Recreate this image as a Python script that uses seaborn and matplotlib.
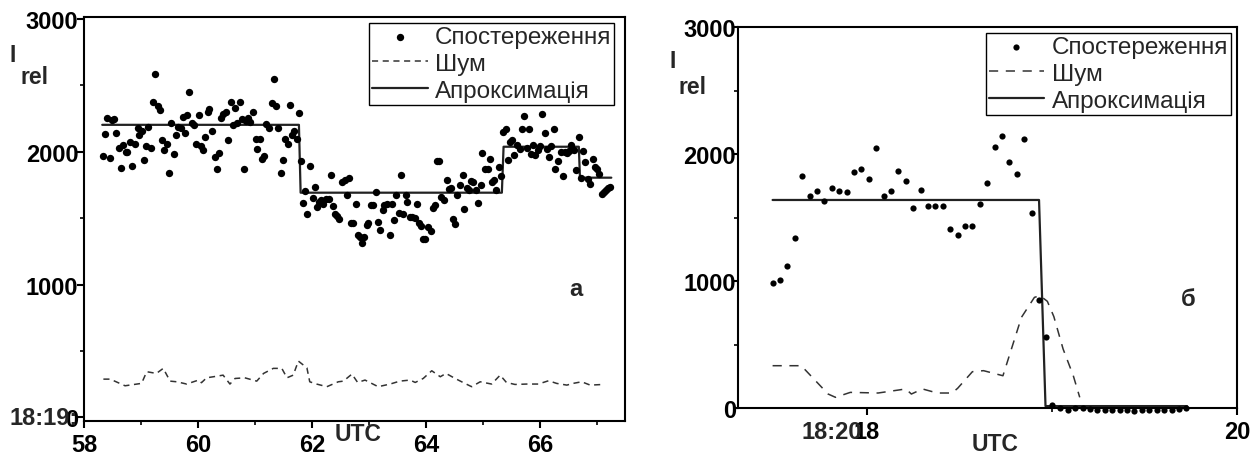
import numpy as np
import pandas as pd
import matplotlib.pyplot as plt
import seaborn as sns
from matplotlib.ticker import MultipleLocator

# --- panel а: 18:19:58 - 18:20:07 ---
obs_a_x = [58.33, 58.37, 58.41, 58.46, 58.49, 58.53, 58.57, 58.61, 58.65, 58.69,
           58.73, 58.76, 58.81, 58.85, 58.89, 58.94, 58.97, 59.01, 59.05, 59.09,
           59.13, 59.18, 59.21, 59.25, 59.29, 59.33, 59.37, 59.41, 59.45, 59.49,
           59.53, 59.57, 59.61, 59.65, 59.70, 59.73, 59.77, 59.81, 59.85, 59.89,
           59.93, 59.97, 60.01, 60.05, 60.09, 60.13, 60.17, 60.20, 60.25, 60.29,
           60.33, 60.37, 60.40, 60.44, 60.49, 60.53, 60.57, 60.61, 60.65, 60.69,
           60.73, 60.77, 60.81, 60.85, 60.88, 60.92, 60.96, 61.01, 61.04, 61.08,
           61.12, 61.16, 61.20, 61.25, 61.29, 61.33, 61.37, 61.41, 61.45, 61.49,
           61.53, 61.57, 61.61, 61.64, 61.68, 61.73, 61.77, 61.81, 61.84, 61.88,
           61.92, 61.96, 62.01, 62.05, 62.08, 62.12, 62.16, 62.20, 62.24, 62.29,
           62.33, 62.36, 62.40, 62.44, 62.48, 62.52, 62.57, 62.61, 62.64, 62.68,
           62.71, 62.77, 62.81, 62.84, 62.88, 62.91, 62.96, 62.99, 63.04, 63.07,
           63.12, 63.16, 63.20, 63.24, 63.27, 63.32, 63.36, 63.40, 63.44, 63.48,
           63.53, 63.56, 63.60, 63.64, 63.67, 63.72, 63.76, 63.80, 63.84, 63.88,
           63.92, 63.95, 63.99, 64.03, 64.08, 64.12, 64.15, 64.19, 64.23, 64.27,
           64.32, 64.36, 64.40, 64.44, 64.48, 64.51, 64.55, 64.60, 64.64, 64.67,
           64.71, 64.75, 64.79, 64.83, 64.88, 64.92, 64.96, 64.99, 65.03, 65.08,
           65.12, 65.16, 65.19, 65.23, 65.28, 65.32, 65.35, 65.40, 65.43, 65.47,
           65.51, 65.55, 65.60, 65.64, 65.68, 65.72, 65.77, 65.81, 65.84, 65.88,
           65.92, 65.96, 66.00, 66.04, 66.08, 66.12, 66.16, 66.20, 66.24, 66.27,
           66.32, 66.36, 66.40, 66.44, 66.48, 66.51, 66.55, 66.59, 66.63, 66.68,
           66.71, 66.75, 66.79, 66.84, 66.88, 66.92, 66.96, 67.00, 67.03, 67.08,
           67.12, 67.15, 67.19, 67.23]
obs_a_y = [1967, 2135, 2255, 1952, 2238, 2248, 2143, 2030, 1877, 2052,
           2002, 2002, 2070, 1890, 2055, 2180, 2130, 2153, 1935, 2042,
           2185, 2030, 2373, 2589, 2348, 2318, 2088, 2017, 2055, 1842,
           2218, 1985, 2128, 2190, 2178, 2265, 2143, 2278, 2453, 2215,
           2198, 2057, 2278, 2042, 2017, 2110, 2298, 2321, 2160, 1962,
           1867, 1992, 2258, 2286, 2296, 2090, 2373, 2200, 2331, 2218,
           2376, 2248, 1872, 2235, 2253, 2223, 2298, 2098, 2022, 2098,
           1947, 1972, 2208, 2180, 2368, 2546, 2343, 2180, 1842, 1937,
           2098, 2055, 2356, 2128, 2153, 2098, 2290, 1930, 1617, 1702,
           1534, 1893, 1652, 1735, 1585, 1622, 1635, 1610, 1647, 1647,
           1828, 1592, 1534, 1517, 1497, 1772, 1785, 1672, 1803, 1467,
           1467, 1610, 1372, 1359, 1316, 1359, 1452, 1467, 1602, 1602,
           1697, 1472, 1412, 1559, 1602, 1610, 1372, 1610, 1489, 1672,
           1542, 1828, 1534, 1672, 1622, 1509, 1509, 1504, 1610, 1467,
           1439, 1346, 1346, 1434, 1402, 1577, 1602, 1933, 1928, 1660,
           1635, 1790, 1717, 1727, 1492, 1459, 1672, 1752, 1823, 1572,
           1727, 1715, 1778, 1772, 1710, 1615, 1752, 1993, 1873, 1873,
           1943, 1772, 1785, 1710, 1885, 1818, 2148, 2173, 1935, 2073,
           2086, 1978, 2053, 2023, 2168, 2269, 2028, 2173, 1986, 2048,
           1978, 2011, 2043, 2281, 2141, 2018, 1960, 2041, 2168, 1873,
           1928, 1998, 1815, 1998, 1993, 2003, 2048, 2011, 1860, 2111,
           1803, 2006, 1923, 1798, 1760, 1943, 1885, 1868, 1830, 1685,
           1697, 1710, 1727, 1735]

noise_a_x = [58.34, 58.46, 58.72, 59.01, 59.10, 59.27, 59.39, 59.51, 59.63, 59.80,
             60.01, 60.06, 60.15, 60.30, 60.44, 60.56, 60.65, 60.82, 61.03, 61.15,
             61.32, 61.47, 61.56, 61.67, 61.76, 61.91, 61.96, 62.08, 62.26, 62.46,
             62.55, 62.70, 62.80, 62.93, 63.16, 63.37, 63.54, 63.72, 63.81, 63.95,
             64.10, 64.25, 64.35, 64.51, 64.68, 64.80, 64.95, 65.15, 65.30, 65.41,
             65.56, 65.77, 65.97, 66.15, 66.29, 66.47, 66.58, 66.73, 66.88, 67.11]
noise_a_y = [288, 288, 238, 256, 344, 331, 369, 273, 268, 251,
             281, 261, 298, 308, 318, 251, 293, 298, 273, 331,
             369, 369, 298, 318, 424, 373, 268, 251, 231, 268,
             273, 326, 263, 281, 231, 251, 273, 281, 263, 293,
             351, 306, 331, 293, 256, 231, 268, 251, 318, 263,
             248, 251, 251, 276, 256, 243, 256, 268, 243, 248]

fit_a_x = [58.32, 61.77, 61.80, 65.33, 65.36, 66.68, 66.70, 67.25]
fit_a_y = [2203, 2203, 1692, 1692, 2038, 2038, 1805, 1805]

# --- panel б: 18:20:17 - 18:20:20 ---
obs_b_x = [17.49, 17.53, 17.57, 17.61, 17.65, 17.69, 17.73, 17.77, 17.81, 17.85,
           17.89, 17.93, 17.97, 18.01, 18.05, 18.09, 18.13, 18.17, 18.21, 18.25,
           18.29, 18.33, 18.37, 18.41, 18.45, 18.49, 18.53, 18.57, 18.61, 18.65,
           18.69, 18.73, 18.77, 18.81, 18.85, 18.89, 18.93, 18.97, 19.00, 19.045,
           19.085, 19.124, 19.166, 19.205, 19.245, 19.286, 19.326, 19.366, 19.405, 19.445,
           19.486, 19.526, 19.566, 19.605, 19.647, 19.686, 19.726]
obs_b_y = [982, 1010, 1116, 1336, 1824, 1669, 1711, 1633, 1730, 1711,
           1704, 1856, 1879, 1803, 2047, 1669, 1709, 1864, 1785, 1572,
           1719, 1591, 1591, 1591, 1412, 1360, 1431, 1436, 1604, 1772,
           2053, 2139, 1940, 1840, 2116, 1538, 848, 559, 24, 0,
           -13, -2, -2, -8, -13, -18, -18, -13, -13, -21,
           -16, -13, -13, -18, -13, -8, 0]

noise_b_x = [17.49, 17.645, 17.79, 17.83, 17.91, 18.06, 18.21, 18.24, 18.30, 18.38,
             18.46, 18.49, 18.57, 18.63, 18.735, 18.835, 18.905, 18.935, 18.975, 19.01,
             19.06, 19.115, 19.15]
noise_b_y = [333, 333, 110, 84, 123, 118, 150, 110, 150, 118,
             118, 155, 286, 294, 254, 714, 871, 885, 840, 720,
             465, 255, 84]

fit_b_x = [17.49, 18.93, 18.965, 19.73]
fit_b_y = [1638, 1638, 15, 15]

LABELS = ['Спостереження', 'Шум', 'Апроксимація']

sns.set_style('ticks')
plt.rcParams['font.family'] = ['Liberation Sans', 'DejaVu Sans']

W, H = 1259, 456
fig = plt.figure(figsize=(W / 100, H / 100), dpi=100)


def px_box(l, t, r, b):
    return [l / W, 1 - b / H, (r - l) / W, (b - t) / H]


ax_a = fig.add_axes(px_box(84, 18, 625, 421.7))
ax_b = fig.add_axes(px_box(738, 28, 1237, 409))


def draw_panel(ax, ox, oy, nx, ny, fx, fy, dot, dash):
    sns.scatterplot(x=ox, y=oy, ax=ax, color='black', s=dot, linewidth=0,
                    label=LABELS[0], zorder=3, clip_on=False)
    sns.lineplot(x=nx, y=ny, ax=ax, color='#333333', lw=1.1, linestyle=(0, dash),
                 label=LABELS[1], estimator=None, sort=False)
    sns.lineplot(x=fx, y=fy, ax=ax, color='#222222', lw=1.6,
                 label=LABELS[2], estimator=None, sort=False)
    for sp in ax.spines.values():
        sp.set_visible(True)
        sp.set_linewidth(1.5)
        sp.set_color('black')
    ax.set_xlabel('')
    ax.set_ylabel('')
    ax.yaxis.set_major_locator(MultipleLocator(1000))
    ax.yaxis.set_minor_locator(MultipleLocator(500))
    ax.tick_params(which='major', direction='out', length=5, width=1.5,
                   colors='black', labelsize=17)
    ax.tick_params(which='minor', direction='out', length=3, width=1.2, colors='black')


draw_panel(ax_a, obs_a_x, obs_a_y, noise_a_x, noise_a_y, fit_a_x, fit_a_y, 28, (4, 3))
ax_a.set_xlim(58, 67.49)
ax_a.set_ylim(-25, 3015)
ax_a.set_xticks([58, 60, 62, 64, 66])
ax_a.xaxis.set_minor_locator(MultipleLocator(1))
ax_a.tick_params(axis='y', which='major', pad=-1)

draw_panel(ax_b, obs_b_x, obs_b_y, noise_b_x, noise_b_y, fit_b_x, fit_b_y, 20, (6, 5))
ax_b.set_xlim(17.303, 20)
ax_b.set_ylim(0, 3000)
ax_b.set_xticks([18, 20])
ax_b.set_xticks([19], minor=True)
ax_b.tick_params(axis='y', which='major', length=3, pad=-1.5)

for ax in (ax_a, ax_b):
    for lbl in ax.get_xticklabels() + ax.get_yticklabels():
        lbl.set_fontweight('bold')

for ax, anchor in [(ax_a, (0.98, 0.985)), (ax_b, (0.988, 0.984))]:
    handles, labels = ax.get_legend_handles_labels()
    leg = ax.legend(handles, labels, loc='upper right', bbox_to_anchor=anchor,
                    borderaxespad=0, fontsize=17.5, frameon=True, fancybox=False,
                    edgecolor='black', framealpha=1, handlelength=2.3,
                    handletextpad=0.3, labelspacing=0.2, borderpad=0.12)
    leg.get_frame().set_linewidth(1.0)

# time prefixes that overlap the first tick labels, as in the original
ax_a.annotate('18:19:', xy=(0, 0), xycoords=('axes fraction', 'data'),
              xytext=(-4.5, 0), textcoords='offset points', ha='right', va='center',
              fontsize=17, fontweight='bold')
ax_b.annotate('18:20', xy=(17.975, 0), xycoords=('data', 'axes fraction'),
              xytext=(0, -8.5), textcoords='offset points', ha='right', va='top',
              fontsize=17, fontweight='bold')

bold = dict(fontweight='bold', ha='center', va='center')
fig.text(358 / W, 1 - 435 / H, 'UTC', fontsize=16.5, **bold)
fig.text(995 / W, 1 - 445 / H, 'UTC', fontsize=16.5, **bold)
fig.text(13 / W, 1 - 55 / H, 'I', fontsize=16.5, **bold)
fig.text(34 / W, 1 - 77 / H, 'rel', fontsize=16.5, **bold)
fig.text(673 / W, 1 - 62 / H, 'I', fontsize=16.5, **bold)
fig.text(692 / W, 1 - 88 / H, 'rel', fontsize=16.5, **bold)
fig.text(576 / W, 1 - 290 / H, 'а', fontsize=17, **bold)
fig.text(1188 / W, 1 - 300 / H, 'б', fontsize=17, **bold)

fig.savefig('out.png', dpi=100)
